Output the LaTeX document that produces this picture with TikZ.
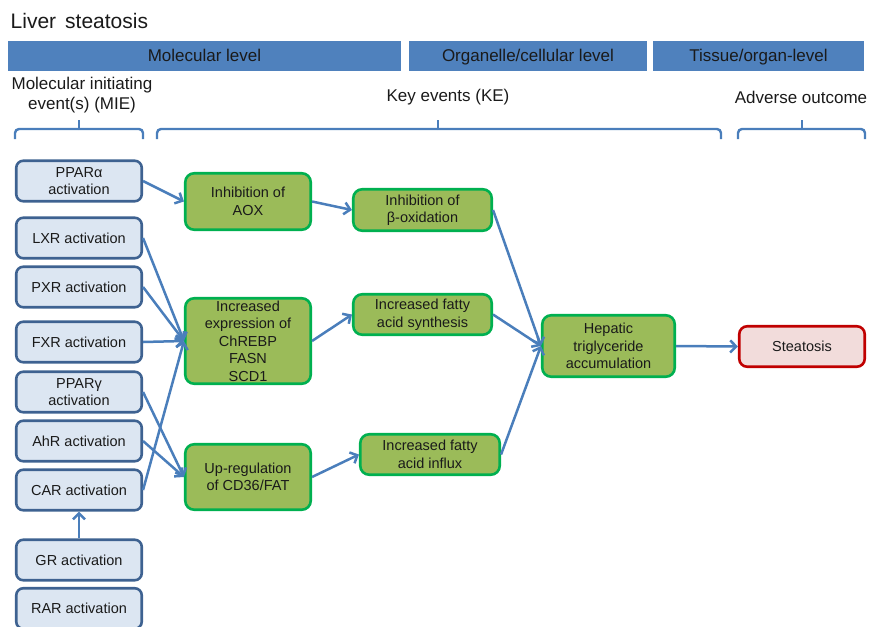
\documentclass[tikz,border=0pt]{standalone}
\usepackage{fontspec}
\setmainfont{Liberation Sans}
\usetikzlibrary{arrows.meta}
\definecolor{hdr}{HTML}{4F81BD}
\definecolor{mieFill}{HTML}{DCE6F2}
\definecolor{mieLine}{HTML}{3E6291}
\definecolor{keFill}{HTML}{9BBB59}
\definecolor{keLine}{HTML}{00B050}
\definecolor{aoFill}{HTML}{F2DCDB}
\definecolor{aoLine}{HTML}{C00000}
\definecolor{arrc}{HTML}{4A7EBB}
\definecolor{txt}{HTML}{1A1A1A}
\begin{document}
\begin{tikzpicture}[x=1pt,y=-1pt,
  boxtext/.style={font=\fontsize{14.5}{17.5}\selectfont, text=txt, align=center, inner sep=0pt},
  miebox/.style={boxtext, draw=mieLine, fill=mieFill, line width=2.6pt, rounded corners=7pt, minimum width=125.5pt, minimum height=40.5pt},
  kebox/.style={boxtext, draw=keLine, fill=keFill, line width=2.6pt, rounded corners=9pt},
  aobox/.style={boxtext, draw=aoLine, fill=aoFill, line width=2.6pt, rounded corners=8pt},
  hdrbar/.style={fill=hdr, inner sep=0pt, minimum height=30pt, text height=15pt, text depth=3.6pt, font=\fontsize{17}{20}\selectfont, text=txt},
  lbl/.style={font=\fontsize{17}{20}\selectfont, text=txt, align=center, inner sep=0pt},
  arr/.style={draw=arrc, line width=2.5pt, -{Straight Barb[length=6pt,width=12pt]}},
  brace/.style={draw=arrc, line width=2.4pt}
]
\useasboundingbox (0,0) rectangle (871,627);
\clip (0,0) rectangle (871,627);

% title
\node[anchor=west, inner sep=0pt, font=\fontsize{21}{25}\selectfont, text=txt] (title) at (10.5,21) {Liver\hspace{9pt}steatosis};

% header bars
\node[hdrbar, minimum width=393pt] (hmol) at (204.5,56) {Molecular level};
\node[hdrbar, minimum width=238pt] (horg) at (528,56) {Organelle/cellular level};
\node[hdrbar, minimum width=211pt] (htis) at (758.5,56) {Tissue/organ-level};

% column labels
\node[lbl] (lmie) at (82,95) {Molecular initiating\\event(s) (MIE)};
\node[lbl] (lke) at (448,97) {Key events (KE)};
\node[lbl] (lao) at (801,97) {Adverse outcome};

% braces
\draw[brace, rounded corners=4pt] (15,139) |- (79,129) -| (143,139);
\draw[brace] (79,130) -- (79,120);
\draw[brace, rounded corners=4pt] (157,139) |- (438,129) -| (721,139);
\draw[brace] (438,130) -- (438,120);
\draw[brace, rounded corners=4pt] (738,139) |- (802,129) -| (865,139);
\draw[brace] (802,130) -- (802,120);

% MIE boxes
\node[miebox] (ppara) at (79,181) {PPARα\\activation};
\node[miebox] (lxr) at (79,238) {LXR activation};
\node[miebox] (pxr) at (79,287) {PXR activation};
\node[miebox] (fxr) at (79,342) {FXR activation};
\node[miebox] (pparg) at (79,392) {PPARγ\\activation};
\node[miebox] (ahr) at (79,441) {AhR activation};
\node[miebox] (car) at (79,490) {CAR activation};
\node[miebox] (gr) at (79,560) {GR activation};
\node[miebox] (rar) at (79,608.5) {RAR activation};

% key event boxes
\node[kebox, minimum width=125.5pt, minimum height=56.5pt] (aox) at (248,201.5) {Inhibition\hspace{4pt}of\\AOX};
\node[kebox, minimum width=125.5pt, minimum height=85.5pt] (expr) at (248,341) {Increased\\expression of\\ChREBP\\FASN\\SCD1};
\node[kebox, minimum width=125.5pt, minimum height=65.5pt] (upreg) at (248,477) {Up-regulation\\of CD36/FAT};
\node[kebox, minimum width=138.5pt, minimum height=41.5pt] (boxid) at (422.5,210) {Inhibition\hspace{4pt}of\\β-oxidation};
\node[kebox, minimum width=138.5pt, minimum height=40.5pt] (synth) at (422.5,314.5) {Increased fatty\\acid synthesis};
\node[kebox, minimum width=139.5pt, minimum height=40.5pt] (influx) at (430,454.5) {Increased fatty\\acid influx};
\node[kebox, minimum width=132.5pt, minimum height=61.5pt] (hep) at (608.5,346) {Hepatic\\triglyceride\\accumulation};

% adverse outcome
\node[aobox, minimum width=125.5pt, minimum height=40.5pt] (steat) at (802,346.5) {Steatosis};

% connectors
\draw[arr] (ppara.east) -- (aox.west);
\draw[arr] (aox.east) -- (boxid.west);
\draw[arr] (lxr.east) -- (expr.west);
\draw[arr] (pxr.east) -- (expr.west);
\draw[arr] (fxr.east) -- (expr.west);
\draw[arr] (car.east) -- (expr.west);
\draw[arr] (pparg.east) -- (upreg.west);
\draw[arr] (ahr.east) -- (upreg.west);
\draw[arr] (gr.north) -- (car.south);
\draw[arr] (expr.east) -- (synth.west);
\draw[arr] (upreg.east) -- (influx.west);
\draw[arr] (boxid.east) -- (hep.west);
\draw[arr] (synth.east) -- (hep.west);
\draw[arr] (influx.east) -- (hep.west);
\draw[arr] (hep.east) -- (steat.west);
\end{tikzpicture}
\end{document}
